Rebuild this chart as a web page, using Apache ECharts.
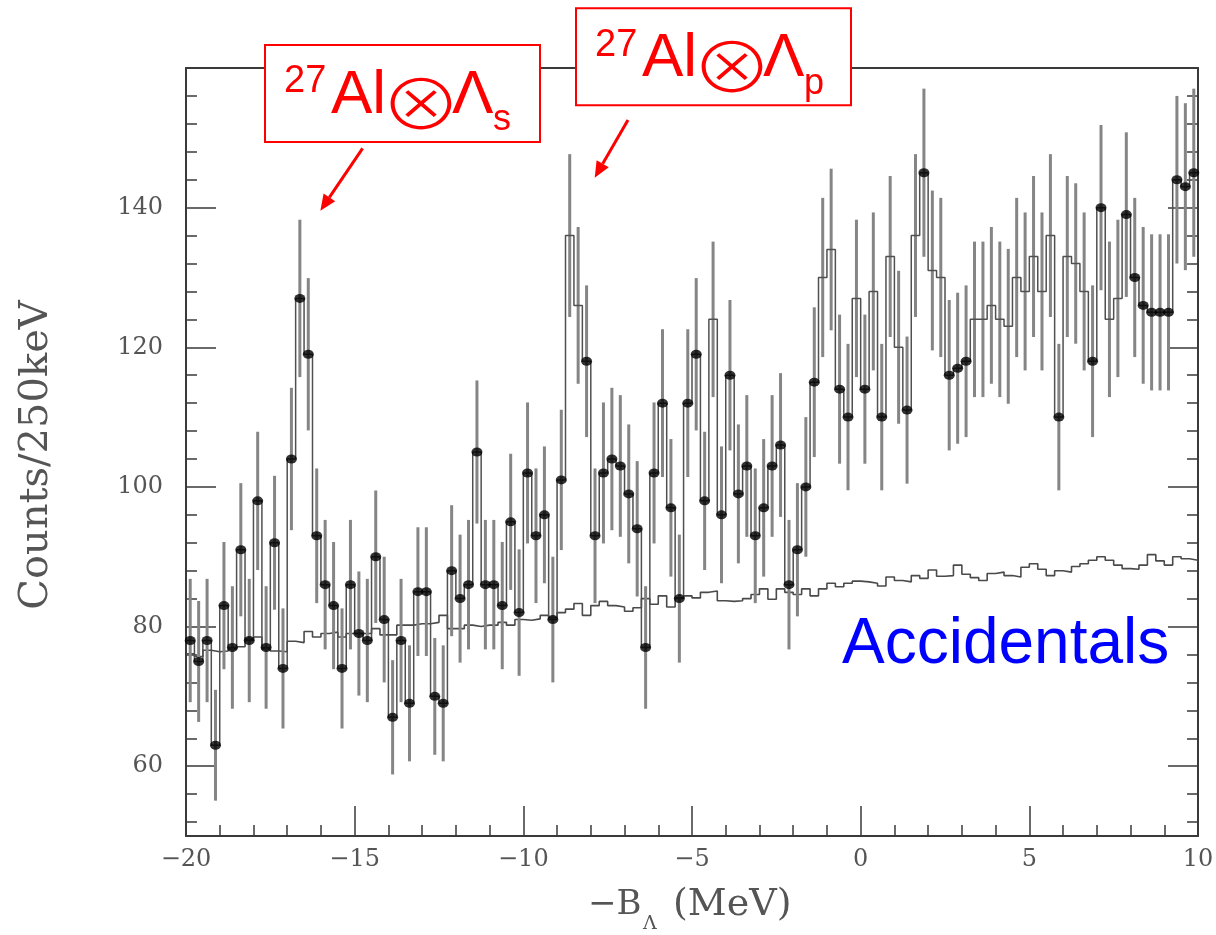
<!DOCTYPE html>
<html><head><meta charset="utf-8">
<script src="https://cdn.jsdelivr.net/npm/echarts@6/dist/echarts.min.js"></script>
<style>html,body{margin:0;padding:0;background:#fff}#chart{width:1216px;height:935px}</style>
</head><body><div id="chart"></div>
<script>
// ---- data ----
const binStart = -20;
const binWidth = 0.25;
const counts = [
  78,75,78,63,83,77,91,78,98,77,92,74,104,127,119,93,86,83,74,86,
  79,78,90,81,67,78,69,85,85,70,69,88,84,86,105,86,86,83,95,82,102,
  93,96,81,101,136,126,118,93,102,104,103,99,94,77,102,112,97,84,112,119,
  98,124,96,116,99,103,93,97,103,106,86,91,100,115,130,134,114,110,127,114,
  128,110,133,120,111,136,145,131,130,116,117,118,124,124,126,124,123,130,128,133,
  128,136,110,133,132,128,118,140,124,127,139,130,126,125,125,125,144,143,145
];
const accidentals = [
  76.1,75.7,76.6,76.4,76.5,76.8,77.1,78.2,78.5,76.8,76.5,76.4,77.9,77.7,79.3,78.5,79.0,79.2,78.5,79.0,
  79.0,79.0,79.7,78.8,78.8,80.2,80.2,80.4,80.4,80.6,81.6,79.7,79.7,80.2,80.0,80.2,80.2,80.6,80.2,81.0,80.9,
  81.1,81.6,81.3,82.0,82.5,83.3,81.6,83.0,83.6,83.0,82.8,82.2,82.7,84.0,83.2,84.4,82.8,84.1,84.4,84.1,
  84.9,85.1,83.7,83.6,83.7,84.0,84.6,85.4,83.9,85.4,84.9,84.6,85.4,84.4,85.4,86.2,85.7,86.2,86.5,86.4,
  86.2,85.8,87.1,86.6,86.4,87.3,86.9,88.1,87.2,87.3,88.8,87.5,87.0,86.6,87.6,87.8,87.3,87.1,88.5,89.0,
  88.2,87.3,88.0,87.8,88.6,89.0,89.5,90.0,89.5,88.8,88.3,88.2,88.8,90.3,89.4,88.8,90.0,89.7,89.5
];
// bins drawn as histogram steps only (no filled marker)
const noMarkerBins = [45,46,62,75,76,79,81,83,84,86,88,89,93,94,95,96,97,98,99,100,101,102,104,105,106,109,110];
const yMajorTicks = [60,80,100,120,140];
const yMinorTicks = [52,56,64,68,72,76,84,88,92,96,104,108,112,116,124,128,132,136,144,148,152,156];
const labelS = {sup:'27', el:'Al', op:'\u2297', hyp:'\u039B', sub:'s'};
const labelP = {sup:'27', el:'Al', op:'\u2297', hyp:'\u039B', sub:'p'};
const accLabel = 'Accidentals';
const yTitle = 'Counts/250keV';

// ---- derived ----
function stepPoints(vals){
  const pts = [];
  vals.forEach((v,i)=>{ const lo = binStart + i*binWidth; pts.push([lo, v],[lo + binWidth, v]); });
  return pts;
}
const centers = counts.map((v,i)=> binStart + (i+0.5)*binWidth);
const errData = counts.map((v,i)=> [centers[i], v - Math.sqrt(v), v + Math.sqrt(v)]);
const dotData = counts.map((v,i)=> [centers[i], v]).filter((d,i)=> noMarkerBins.indexOf(i) < 0);

const AX = '#3a3a3a', LBL = '#555';
const serif = 'DejaVu Serif';
const sans = 'Liberation Sans';
const RED = '#ff0000';

function yAx(pos, ticks, len, showLine, showLabel){
  return {
    type:'value', position:pos, min:50, max:160,
    axisLine:{show:showLine, onZero:false, lineStyle:{color:AX, width:2}},
    axisTick:{show:true, inside:true, length:len, customValues:ticks, lineStyle:{color:AX, width:1.5}},
    axisLabel:{show:showLabel, customValues:ticks, margin:23, color:LBL, fontFamily:serif, fontSize:24},
    splitLine:{show:false}
  };
}
function txt(x, y, text, family, size, color, align, extra, weight){
  return Object.assign({type:'text', z:101, x:x, y:y,
    style:{text:text, fontFamily:family, fontSize:size, fontWeight:weight||'normal', fill:color, align:align||'left', textAlign:align||'left', verticalAlign:'middle', textVerticalAlign:'middle'}}, extra||{});
}
function annot(ox, oy, lab){
  return [
    {type:'rect', z:100, shape:{x:265+ox, y:45+oy, width:275, height:97}, style:{fill:'#fff', stroke:RED, lineWidth:2}},
    txt(284+ox, 82+oy, lab.sup, sans, 38, RED),
    txt(331+ox, 95.5+oy, lab.el, sans, 62, RED),
    txt(421+ox, 104+oy, lab.op, 'Noto Sans CJK JP', 82, RED, 'center', {scaleY:0.84}, 300),
    txt(452+ox, 95.5+oy, lab.hyp, sans, 62, RED),
    txt(493+ox, 120.5+oy, lab.sub, sans, 36, RED)
  ];
}
function arrow(x1,y1,x2,y2){
  const dx=x2-x1, dy=y2-y1, L=Math.hypot(dx,dy), ux=dx/L, uy=dy/L;
  const bx=x2-16*ux, by=y2-16*uy, px=-uy*7, py=ux*7;
  return [
    {type:'line', z:100, shape:{x1:x1,y1:y1,x2:bx,y2:by}, style:{stroke:RED, lineWidth:3}},
    {type:'polygon', z:100, shape:{points:[[x2,y2],[bx+px,by+py],[bx-px,by-py]]}, style:{fill:RED}}
  ];
}

const chart = echarts.init(document.getElementById('chart'), null, {renderer:'canvas'});
chart.setOption({
  animation:false,
  backgroundColor:'#fff',
  grid:{left:186, right:18, top:68, bottom:99, containLabel:false, outerBoundsMode:'none'},
  xAxis:[{
    type:'value', min:-20, max:10, interval:5, position:'bottom',
    axisLine:{show:true, onZero:false, lineStyle:{color:AX, width:2}},
    axisTick:{show:true, inside:true, length:30, lineStyle:{color:AX, width:1.5}},
    minorTick:{show:true, splitNumber:5, length:11, lineStyle:{color:AX, width:1.5}},
    axisLabel:{margin:12, color:LBL, fontFamily:serif, fontSize:24, formatter:v=> v<0 ? '\u2212'+Math.abs(v) : String(v)},
    splitLine:{show:false}
  },{
    type:'value', min:-20, max:10, position:'top',
    axisLine:{show:true, onZero:false, lineStyle:{color:AX, width:2}},
    axisTick:{show:false}, axisLabel:{show:false}, splitLine:{show:false}
  }],
  yAxis:[
    yAx('left', yMajorTicks, 30, true, true),
    yAx('left', yMinorTicks, 11, false, false),
    yAx('right', yMajorTicks, 30, true, false),
    yAx('right', yMinorTicks, 11, false, false)
  ],
  series:[
    {type:'line', name:'Accidentals', data:stepPoints(accidentals), symbol:'none', z:2,
     lineStyle:{color:'#4a4a4a', width:1.6}},
    {type:'custom', name:'errors', data:errData, z:3,
     renderItem:(params, api)=>{
       const x=api.value(0), p1=api.coord([x, api.value(1)]), p2=api.coord([x, api.value(2)]);
       return {type:'line', shape:{x1:p1[0], y1:p1[1], x2:p2[0], y2:p2[1]}, style:{stroke:'#858585', lineWidth:3}};
     }},
    {type:'line', name:'Data', data:stepPoints(counts), symbol:'none', z:4,
     lineStyle:{color:'#505050', width:1.5}},
    {type:'scatter', name:'points', data:dotData, symbol:'circle', symbolSize:[11,9], z:5,
     itemStyle:{color:'#000'}}
  ],
  graphic:[].concat(
    annot(0,0,labelS),
    annot(311,-36.7,labelP),
    arrow(362.6,148.3,320.4,210.7),
    arrow(628,120,594.7,177.7),
    [
      txt(842, 645.8, accLabel, sans, 64, '#0000ff'),
      txt(37, 455, yTitle, serif, 40, LBL, 'center', {rotation:Math.PI/2}),
      txt(588, 905, '\u2212B', serif, 34, LBL),
      txt(643, 924, '\u039B', serif, 19, LBL),
      txt(673, 905, '(MeV)', serif, 38, LBL)
    ]
  )
});
</script></body></html>
